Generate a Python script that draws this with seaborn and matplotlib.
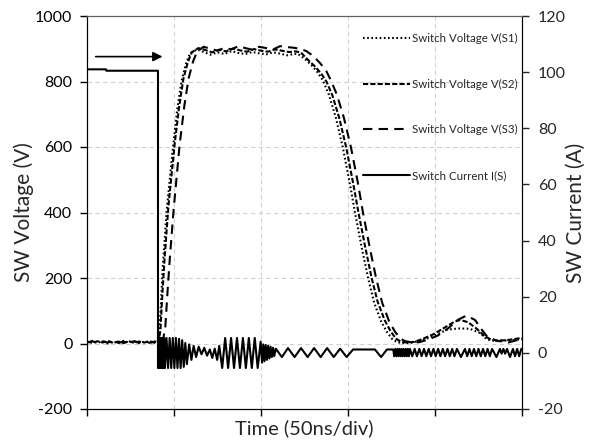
import numpy as np
import pandas as pd
import matplotlib
matplotlib.use("Agg")
import matplotlib.pyplot as plt
import seaborn as sns

# ---- waveform data (time in ns, 50 ns per division) ----
s1_t = [0, 3, 6, 9, 12, 15, 18, 21, 24, 27, 30, 33, 36, 39, 40.5,
        41.5, 42.5, 43.5, 45.8, 49.4, 52, 54.4, 57, 59.2, 63.2,
        67, 71, 75, 79, 83, 87, 91, 95, 99, 103, 107, 111, 115, 119, 121,
        125, 129, 132.5, 135.6, 139, 143, 147, 151, 154, 158, 161.5, 165, 169, 172.4, 175.5, 178.2, 182, 186,
        188.5, 197, 206.9, 213.2, 220.1, 225.9, 229.9, 234.5, 240.2, 246, 250]
s1_v = [4, 8, 2, 7, 0, 6, 1, 8, 3, 7, 1, 6, 4, 5, 3,
        30, 120, 230, 406, 599, 720, 803, 856, 886, 898,
        890, 882, 889, 884, 893, 887, 884, 890, 886, 883, 889, 885, 880, 884, 885,
        870, 850, 828, 803, 760, 690, 599, 490, 400, 290, 201, 125, 68, 35, 13, 4, 1, 2,
        5, 18, 42, 46, 45, 32, 12, 8, 9, 11, 13]

s2_t = [0, 3, 6, 9, 12, 15, 18, 21, 24, 27, 30, 33, 36, 39, 41,
        42.2, 43.3, 44.6, 46.8, 50.4, 53, 55.4, 58, 60.2, 64,
        68, 72, 76, 80, 84, 88, 92, 96, 100, 104, 108, 112, 116, 120, 123,
        127, 131, 134.5, 137.6, 141, 145, 149, 153, 156, 160, 163.5, 167, 171, 174.4, 177.5, 180.2, 184, 188,
        192, 199, 206, 211, 214.5, 219, 224, 228, 232, 236, 241, 246, 250]
s2_v = [6, 2, 7, 3, 8, 2, 6, 1, 7, 2, 6, 3, 7, 2, 4,
        40, 150, 260, 420, 610, 725, 808, 860, 889, 902,
        896, 889, 897, 892, 901, 895, 891, 899, 894, 891, 898, 894, 890, 892, 888,
        866, 846, 825, 800, 758, 688, 598, 488, 400, 292, 202, 128, 72, 38, 15, 6, 3, 5,
        12, 28, 50, 66, 72, 65, 45, 25, 12, 9, 10, 14, 17]

s3_t = [0, 3, 6, 9, 12, 15, 18, 21, 24, 27, 30, 33, 36, 39, 42, 43.5,
        45, 46.3, 47.6, 49.8, 53.2, 56, 58.4, 61, 63.2, 67,
        71, 75, 79, 83, 87, 91, 95, 99, 103, 107, 111, 115, 119, 123, 126,
        130, 134, 137.5, 140.2, 143.6, 147.6, 151.7, 155.7, 158.6, 162.6, 166.1, 169.6, 173.6, 177, 180, 183, 187, 191,
        196, 201.5, 207.5, 213, 218, 223, 226.5, 229.5, 235, 242, 247, 250]
s3_v = [3, 7, 1, 6, 3, 8, 2, 6, 1, 7, 3, 8, 2, 6, 3, 5,
        50, 160, 260, 410, 605, 728, 810, 862, 890, 906,
        900, 894, 903, 898, 908, 902, 897, 906, 902, 898, 908, 905, 903, 899, 893,
        878, 856, 832, 803, 760, 690, 599, 490, 400, 290, 201, 125, 68, 36, 15, 7, 3, 4,
        12, 24, 46, 72, 85, 72, 45, 24, 9, 3, 10, 18]

cur_t = [0, 10.9, 11.2, 40.8, 40.8,
         41.2, 41.6, 42.0, 42.4, 42.8, 43.2, 43.6, 44.0, 44.4, 44.8, 45.7, 46.6, 47.5, 48.4, 49.3,
         50.2, 51.1, 52.0, 52.9, 53.8, 54.7, 55.6, 56.5, 57.4,
         58.7, 60.0, 61.3, 62.7, 64.2, 65.8, 67.4, 69.0, 70.6, 72.0, 73.4, 74.8, 76.0,
         77.7, 79.4, 81.1, 82.8, 84.5, 86.2, 87.9, 89.6, 91.3, 93.0, 94.7, 96.4, 98.1, 99.8,
         100.6, 101.3, 102.0, 102.7, 103.4, 104.1, 104.8, 105.5, 106.2, 106.9, 107.6,
         108.5, 112.0, 115.5, 119.3, 123.0, 126.8, 130.5, 134.3, 138.0, 141.8, 145.5, 149.2,
         152.9, 165.5, 169.0, 172.4, 176.0,
         176.6, 177.2, 177.8, 178.4, 179.0, 179.6, 180.2, 180.8, 181.4, 182.0, 182.6, 183.2, 183.8, 184.4, 185.0, 185.6,
         186.9, 188.3, 189.6, 191.0, 192.3, 193.7, 195.0, 196.4, 197.7, 199.1, 200.4, 201.8, 203.1, 204.5,
         205.8, 207.2, 208.5, 209.9, 211.2, 212.6,
         214.9, 217.2,
         218.5, 219.8, 221.1, 222.4, 223.7, 225.0, 226.3, 227.6, 228.9, 230.2, 231.5, 232.8,
         235.3, 237.3, 238.3, 239.3, 240.3, 241.4, 243.1, 244.8,
         246.0, 247.2, 248.4, 249.6, 250]
cur_i = [101.0, 101.0, 100.5, 100.5, -5.4,
         5.3, -5.4, 5.3, -5.4, 5.3, -5.4, 5.3, -5.4, 5.3, -5.4, 5.3, -5.4, 5.3, -5.4, 5.3,
         -5.4, 5.3, -5.4, 5.0, -5.4, 4.5, -5.0, 3.5, -4.0,
         3.0, -2.5, 2.5, -1.5, 2.2, -0.5, 1.8, -1.0, 1.2, -1.8, 1.5, -2.5, 2.5,
         -5.4, 5.3, -5.4, 5.3, -5.4, 5.3, -5.4, 5.3, -5.4, 5.3, -5.4, 5.3, -5.4, 4.0,
         -3.5, 3.0, -3.0, 2.8, -2.5, 2.5, -2.0, 2.2, -1.5, 1.8, -1.2,
         1.5, -1.5, 1.7, -1.5, 1.7, -1.5, 1.7, -1.5, 1.7, -1.5, 1.5, -1.5,
         1.2, 1.2, -1.5, 1.2, 1.2,
         -1.2, 1.4, -1.2, 1.4, -1.2, 1.4, -1.2, 1.4, -1.2, 1.4, -1.2, 1.4, -1.2, 1.4, -1.2, 1.4,
         -1.2, 1.4, -1.2, 1.4, -1.2, 1.4, -1.2, 1.4, -1.2, 1.4, -1.2, 1.4, -1.2, 1.4,
         -1.2, 1.4, -1.2, 1.4, -1.2, 1.4,
         -1.5, 1.4,
         -1.2, 1.4, -1.2, 1.4, -1.2, 1.4, -1.2, 1.4, -1.2, 1.4, -1.2, 1.4,
         -1.5, 1.4, -0.3, 1.4, -0.3, 1.4, -1.5, 1.4,
         -1.2, 1.4, -1.2, 1.4, 1.4]

labels = ["Switch Voltage V(S1)", "Switch Voltage V(S2)",
          "Switch Voltage V(S3)", "Switch Current I(S)"]
x_ticks = [0, 50, 100, 150, 200, 250]
v_ticks = [-200, 0, 200, 400, 600, 800, 1000]
i_ticks = [-20, 0, 20, 40, 60, 80, 100, 120]

sns.set_style("white")
plt.rcParams["font.family"] = ["Lato", "DejaVu Sans"]
plt.rcParams["axes.unicode_minus"] = False

fig = plt.figure(figsize=(5.9, 4.46), dpi=100)
ax = fig.add_axes([87 / 590, 37 / 446, 435 / 590, 393 / 446])
ax2 = ax.twinx()

lw = 1.5
styles = [(0, (0.8, 1.2)), (0, (2.5, 1.0)), (0, (4.5, 3.0))]
for (tt, vv), lab, ls in zip([(s1_t, s1_v), (s2_t, s2_v), (s3_t, s3_v)], labels[:3], styles):
    df = pd.DataFrame({"t": tt, "v": vv})
    sns.lineplot(data=df, x="t", y="v", ax=ax, estimator=None, sort=False,
                 color="black", lw=lw, linestyle=ls, label=lab, legend=False)

dfc = pd.DataFrame({"t": cur_t, "i": cur_i})
sns.lineplot(data=dfc, x="t", y="i", ax=ax2, estimator=None, sort=False,
             color="black", lw=lw, linestyle="-", label=labels[3], legend=False)

# axes ranges and ticks
ax.set_xlim(0, 250)
ax.set_ylim(-200, 1000)
ax2.set_ylim(-20, 120)
ax.set_xticks(x_ticks)
ax.set_xticklabels([])
ax.set_yticks(v_ticks)
ax2.set_yticks(i_ticks)
ax.tick_params(axis="both", direction="out", length=5, width=1, colors="black",
               labelsize=11.5, pad=5.5, left=True, bottom=True)
ax2.tick_params(axis="y", direction="out", length=5, width=1, labelsize=11.5, pad=6.5, right=True)

ax.set_ylabel("SW Voltage (V)", fontsize=15)
ax2.set_ylabel("SW Current (A)", fontsize=15)
ax.yaxis.set_label_coords((34 - 87) / 435, 0.5)
ax2.yaxis.set_label_coords((566 - 87) / 435, 0.5)
ax.set_xlabel("")
fig.text(304 / 590, 1 - 428 / 446, "Time (50ns/div)", fontsize=14.5, ha="center", va="center")

# dashed grid
grid_kw = dict(color="#d0d0d0", lw=0.8, linestyle=(0, (4, 3)))
for yv in v_ticks[1:-1]:
    ax.axhline(yv, **grid_kw, zorder=0)
for xv in x_ticks[1:-1]:
    ax.axvline(xv, **grid_kw, zorder=0)

for sp in ["left", "bottom", "right"]:
    ax.spines[sp].set_color("black")
    ax2.spines[sp].set_color("black")
ax2.spines["top"].set_color("#606060")
ax.spines["top"].set_color("#606060")

# arrow above the current step
ax.annotate("", xy=(45, 876), xytext=(3.4, 876),
            arrowprops=dict(arrowstyle="-|>", color="black", lw=1.2, mutation_scale=14))

h1, _ = ax.get_legend_handles_labels()
h2, _ = ax2.get_legend_handles_labels()
ax2.legend(h1 + h2, labels, loc="upper right", bbox_to_anchor=((518 - 87) / 435, (409 - 33) / 393),
           frameon=False, labelspacing=3.0, handlelength=4.1, handletextpad=0.2,
           borderpad=0, borderaxespad=0, prop={"family": ["Lato", "DejaVu Sans"], "size": 8.3})

fig.savefig("out.png", dpi=100)
